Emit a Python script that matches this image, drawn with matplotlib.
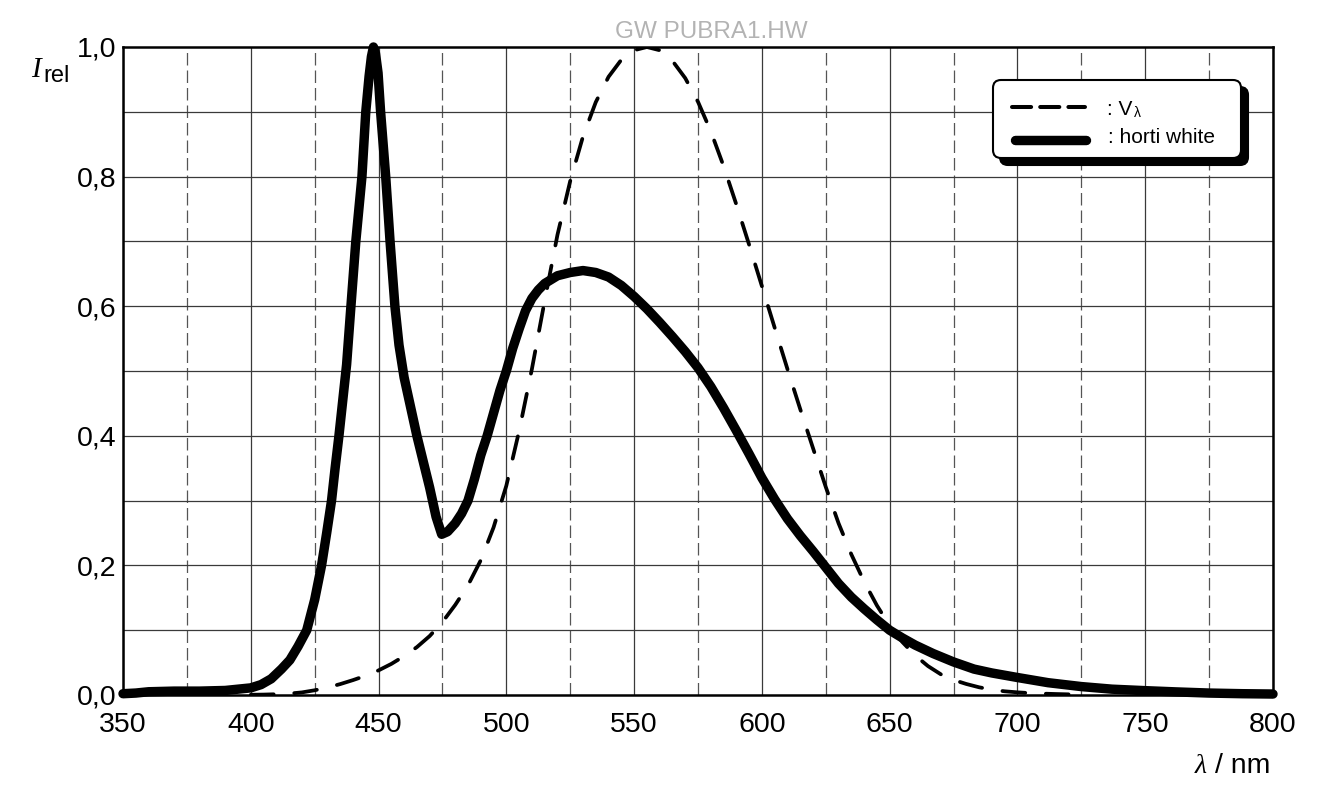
import matplotlib
matplotlib.use('Agg')
import matplotlib.pyplot as plt
from matplotlib.patches import FancyBboxPatch
from matplotlib.lines import Line2D

plt.rcParams['font.family'] = 'Liberation Sans'

# V(lambda) eye sensitivity curve
wl_v = [400, 405, 410, 415, 420, 425, 430, 435, 440, 445, 450, 455, 460, 465, 470,
        475, 480, 485, 490, 495, 500, 505, 510, 515, 520, 525, 530, 535, 540, 545,
        550, 555, 560, 565, 570, 575, 580, 585, 590, 595, 600, 605, 610, 615, 620,
        625, 630, 635, 640, 645, 650, 655, 660, 665, 670, 675, 680, 685, 690, 695,
        700, 705, 710, 715, 720]
v_lambda = [0.0004, 0.00064, 0.0012, 0.00218, 0.004, 0.0073, 0.0116, 0.01684, 0.023,
            0.0298, 0.038, 0.048, 0.06, 0.0739, 0.091, 0.1126, 0.139, 0.1693, 0.208,
            0.2586, 0.323, 0.4073, 0.503, 0.6082, 0.71, 0.7932, 0.862, 0.9149, 0.954,
            0.9803, 0.995, 1.0, 0.995, 0.9786, 0.952, 0.9154, 0.87, 0.8163, 0.757,
            0.6949, 0.631, 0.5668, 0.503, 0.4412, 0.381, 0.321, 0.265, 0.217, 0.175,
            0.1382, 0.107, 0.0816, 0.061, 0.0446, 0.032, 0.0232, 0.017, 0.0119, 0.0082,
            0.0057, 0.0041, 0.0029, 0.0021, 0.0015, 0.001]

# horti white LED spectrum
wl_white = [350, 355, 360, 370, 380, 390, 400, 404, 408, 412, 415.3, 418.5, 421.9, 425,
            427.7, 429.7, 431.6, 433, 434.5, 436, 437.5, 439, 441.1, 443.5, 445, 446.3,
            447.2, 448, 448.8, 449.8, 450.8, 452.8, 454.5, 456.4, 458, 460, 462.5,
            465, 467.5, 470, 472.5, 474.7, 477, 480, 482.5, 485, 487.5, 490, 492.5,
            495, 497.5, 500, 502.5, 505, 507.5, 510, 512.5, 515, 520, 525, 530, 535, 540,
            545, 550, 555, 560, 565, 570, 575, 580, 585, 590, 595, 600, 605, 610, 615,
            620, 625, 630, 635, 640, 645, 650, 655, 660, 667, 675, 683, 690, 700, 712,
            725, 737, 750, 762, 775, 788, 800]
white = [0.002, 0.003, 0.005, 0.006, 0.006, 0.007, 0.011, 0.016, 0.025, 0.04, 0.054,
         0.075, 0.10, 0.147, 0.20, 0.25, 0.30, 0.35, 0.40, 0.455, 0.51, 0.59, 0.70, 0.80,
         0.90, 0.955, 0.985, 1.0, 0.99, 0.96, 0.90, 0.80, 0.70, 0.60, 0.54, 0.49, 0.445,
         0.40, 0.36, 0.32, 0.275, 0.248, 0.252, 0.265, 0.28, 0.30, 0.333, 0.37, 0.40,
         0.435, 0.47, 0.50, 0.535, 0.565, 0.593, 0.612, 0.625, 0.635, 0.647, 0.652,
         0.655, 0.652, 0.645, 0.632, 0.615, 0.596, 0.575, 0.553, 0.53, 0.505, 0.476,
         0.443, 0.408, 0.372, 0.335, 0.302, 0.272, 0.246, 0.222, 0.197, 0.172, 0.151,
         0.133, 0.116, 0.10, 0.088, 0.077, 0.064, 0.051, 0.040, 0.034, 0.027, 0.019,
         0.013, 0.009, 0.0067, 0.0048, 0.003, 0.002, 0.0015]

x_ticks = [350, 400, 450, 500, 550, 600, 650, 700, 750, 800]
y_ticks = [0.0, 0.2, 0.4, 0.6, 0.8, 1.0]
y_labels = ['0,0', '0,2', '0,4', '0,6', '0,8', '1,0']

W, H = 1330, 810
fig = plt.figure(figsize=(13.3, 8.1), dpi=100)
ax = fig.add_axes([123 / W, 1 - 695 / H, 1150 / W, 648 / H])

# grid
for x in range(350, 801, 50):
    ax.axvline(x, color='#3a3a3a', lw=0.9, zorder=1)
for x in range(375, 800, 50):
    ax.axvline(x, color='#555555', lw=0.9, ls=(0, (10, 4)), zorder=1)
for i in range(1, 10):
    ax.axhline(i / 10, color='#3a3a3a', lw=0.9, zorder=1)

ax.plot(wl_v, v_lambda, color='black', lw=2.7, ls=(0, (6.1, 5.5)),
        dash_capstyle='round', zorder=3)
ax.plot(wl_white, white, color='black', lw=6.8, solid_capstyle='round',
        solid_joinstyle='round', clip_on=False, zorder=4)

ax.set_xlim(350, 800)
ax.set_ylim(0, 1)
ax.set_xticks(x_ticks)
ax.set_yticks(y_ticks, y_labels)
ax.tick_params(axis='both', length=0, labelsize=20.5)
ax.tick_params(axis='x', pad=12)
ax.tick_params(axis='y', pad=4.5)
for s in ax.spines.values():
    s.set_linewidth(1.8)
    s.set_zorder(5)

# labels
fig.text(711 / W, 1 - 31.7 / H, 'GW PUBRA1.HW', color='#b3b3b3', fontsize=17.5,
         ha='center', va='center')
fig.text(31 / W, 1 - 76.7 / H, 'I', family='Liberation Serif', style='italic',
         fontsize=21, ha='left', va='baseline')
fig.text(43 / W, 1 - 81.7 / H, 'rel', fontsize=17, ha='left', va='baseline')
fig.text(1207 / W, 1 - 773.3 / H, 'λ', family='Liberation Serif', style='italic',
         fontsize=20, ha='right', va='baseline')
fig.text(1270.7 / W, 1 - 773.3 / H, '/ nm', fontsize=20.5, ha='right', va='baseline')

# legend box with black shadow (inches)
tr = fig.dpi_scale_trans
bx0, by0, bw, bh = 9.93, (H - 158) / 100, 2.48, 0.78
fig.add_artist(FancyBboxPatch((bx0 + 0.07, by0 - 0.07), bw, bh,
                              boxstyle='round,pad=0,rounding_size=0.08',
                              fc='black', ec='black', lw=1.5, transform=tr, zorder=6))
fig.add_artist(FancyBboxPatch((bx0, by0), bw, bh,
                              boxstyle='round,pad=0,rounding_size=0.08',
                              fc='white', ec='black', lw=1.5, transform=tr, zorder=7))
fig.add_artist(Line2D([10.12, 10.85], [(H - 106.7) / 100] * 2, color='black', lw=2.9,
                      ls=(0, (4.75, 2.25)), dash_capstyle='round', transform=tr, zorder=8))
fig.add_artist(Line2D([10.15, 10.86], [(H - 140) / 100] * 2, color='black', lw=6.8,
                      solid_capstyle='round', transform=tr, zorder=8))
fig.text(1106.7 / W, 1 - 115 / H, ': V', fontsize=15, ha='left', va='baseline', zorder=9)
fig.text(1134 / W, 1 - 117 / H, 'λ', fontsize=10, ha='left', va='baseline', zorder=9)
fig.text(1108.3 / W, 1 - 143.3 / H, ': horti white', fontsize=15, ha='left',
         va='baseline', zorder=9)

fig.savefig('out.png', dpi=100)
